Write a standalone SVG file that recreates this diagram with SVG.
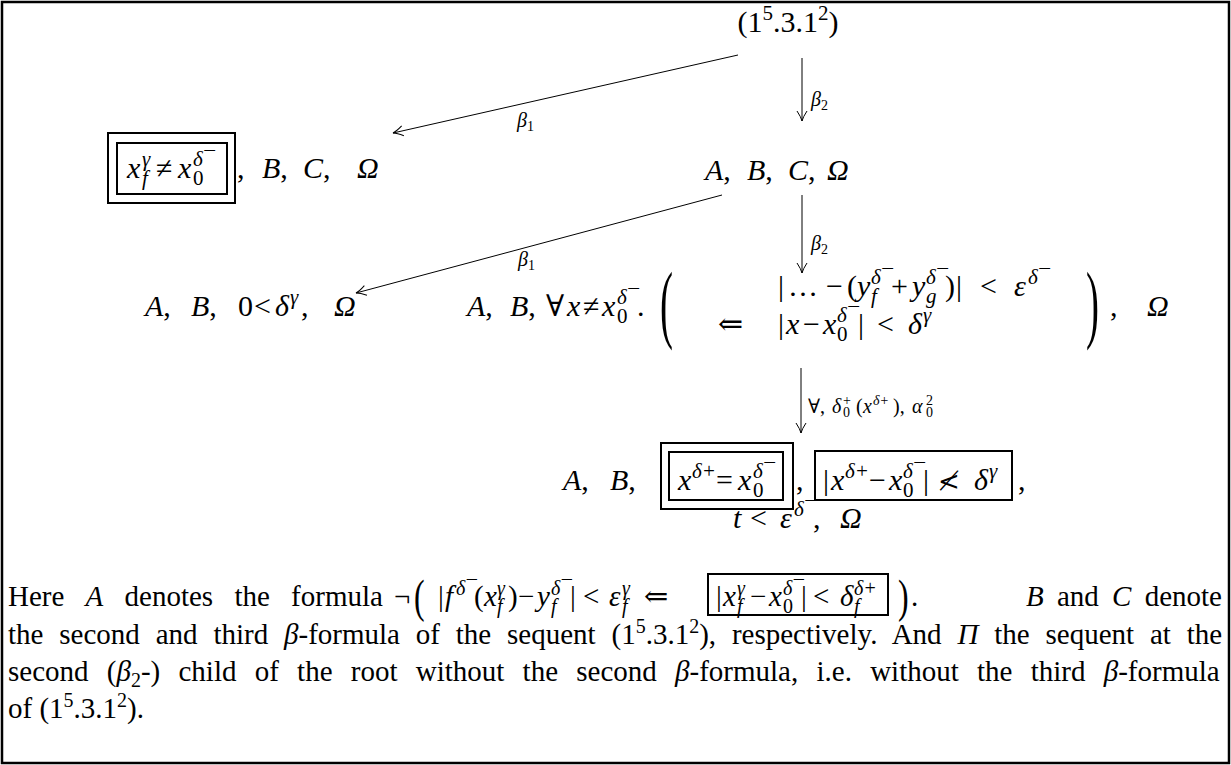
<svg xmlns="http://www.w3.org/2000/svg" width="1231" height="765" viewBox="0 0 1231 765">
<defs>
<style>
text{font-family:"Liberation Serif","DejaVu Serif",serif;fill:#000}
.m{font-size:30px}
.i{font-style:italic}
.n{font-style:normal}
.s{font-size:21px}
.l{font-size:20px}
.ls{font-size:14px}
.p{font-size:29px}
.ps{font-size:20px}
.sym{font-family:"DejaVu Serif","DejaVu Sans",serif}
.box{fill:none;stroke:#000;stroke-width:2}
.edge{stroke:#000;stroke-width:1;fill:none}
</style>
<marker id="arr" markerWidth="14" markerHeight="12" refX="0" refY="0" viewBox="-11 -6 13 12" orient="auto" markerUnits="userSpaceOnUse">
<path d="M-10,-5 Q-4,-1 0,0 Q-4,1 -10,5" fill="none" stroke="#000" stroke-width="1"/>
</marker>
</defs>
<rect x="2" y="2" width="1227" height="761" fill="#fff" stroke="#000" stroke-width="2.5"/>

<g id="connectors">
<line class="edge" x1="738" y1="55" x2="393" y2="133" marker-end="url(#arr)"/>
<text class="l i" x="517" y="127">β<tspan class="ls n" dy="4">1</tspan></text>
<line class="edge" x1="802" y1="58" x2="802" y2="121" marker-end="url(#arr)"/>
<text class="l i" x="811" y="106">β<tspan class="ls n" dy="4">2</tspan></text>
<line class="edge" x1="722" y1="195" x2="356" y2="293" marker-end="url(#arr)"/>
<text class="l i" x="518" y="266">β<tspan class="ls n" dy="4">1</tspan></text>
<line class="edge" x1="802" y1="195" x2="802" y2="273" marker-end="url(#arr)"/>
<text class="l i" x="811" y="250">β<tspan class="ls n" dy="4">2</tspan></text>
<line class="edge" x1="801" y1="368" x2="801" y2="433" marker-end="url(#arr)"/>
<text class="l" x="808" y="413">∀,<tspan class="i" x="832">δ</tspan><tspan class="ls" x="843" dy="-8">+</tspan><tspan class="ls" x="843" dy="12">0</tspan><tspan x="856" dy="-4">(</tspan><tspan class="i" x="863">x</tspan><tspan class="ls i" x="873" dy="-8">δ+</tspan><tspan x="893" dy="8">),</tspan><tspan class="i" x="912">α</tspan><tspan class="ls" x="926" dy="-8">2</tspan><tspan class="ls" x="926" dy="12">0</tspan></text>
</g>

<g id="n-root">
<text class="m" x="788" y="32" text-anchor="middle">(1<tspan class="s" dy="-12">5</tspan><tspan dy="12">.3.1</tspan><tspan class="s" dy="-12">2</tspan><tspan dy="12">)</tspan></text>
</g>

<g id="n-left1">
<rect class="box" x="108" y="133" width="127" height="70"/>
<rect class="box" x="117" y="143" width="110" height="51"/>
<text class="m i" x="127" y="178">x<tspan class="s" x="142" dy="-12">γ</tspan><tspan class="s" x="142" dy="19">f</tspan><tspan class="n" x="156" dy="-7">≠</tspan><tspan x="178">x</tspan><tspan class="s" x="193" dy="-12">δ¯</tspan><tspan class="s n" x="193" dy="19">0</tspan></text>
<text class="m i" x="237" y="178"><tspan class="n">,</tspan><tspan x="262">B</tspan><tspan class="n">,</tspan><tspan x="303">C</tspan><tspan class="n">,</tspan><tspan x="357">Ω</tspan></text>
</g>

<g id="n-mid1">
<text class="m i" x="705" y="180">A<tspan class="n">,</tspan><tspan x="747">B</tspan><tspan class="n">,</tspan><tspan x="788">C</tspan><tspan class="n">,</tspan><tspan x="827">Ω</tspan></text>
</g>

<g id="n-left2">
<text class="m i" x="145" y="316">A<tspan class="n">,</tspan><tspan x="191">B</tspan><tspan class="n">,</tspan><tspan class="n" x="238">0</tspan><tspan class="n" x="254">&lt;</tspan><tspan x="275">δ</tspan><tspan class="s" x="290" dy="-12">γ</tspan><tspan class="n" x="301" dy="12">,</tspan><tspan x="334">Ω</tspan></text>
</g>

<g id="n-mid2">
<text class="m i" x="467" y="316">A<tspan class="n">,</tspan><tspan x="510">B</tspan><tspan class="n">,</tspan><tspan class="n" x="546">∀</tspan><tspan x="567">x</tspan><tspan class="n" x="583">≠</tspan><tspan x="602">x</tspan><tspan class="s" x="617" dy="-12">δ¯</tspan><tspan class="s n" x="617" dy="19">0</tspan><tspan class="n" x="637" dy="-7">.</tspan></text>
<text class="m" transform="translate(660,332) scale(1.3,2.9)">(</text>
<text class="m" y="296"><tspan x="778">|</tspan><tspan x="788">…</tspan><tspan x="826">−</tspan><tspan x="847">(</tspan><tspan class="i" x="857">y</tspan><tspan class="s i" x="871" dy="-12">δ¯</tspan><tspan class="s i" x="871" dy="19">f</tspan><tspan x="891" dy="-7">+</tspan><tspan class="i" x="912">y</tspan><tspan class="s i" x="926" dy="-12">δ¯</tspan><tspan class="s i" x="926" dy="19">g</tspan><tspan x="945" dy="-7">)</tspan><tspan x="956">|</tspan><tspan x="980">&lt;</tspan><tspan class="i" x="1014">ε</tspan><tspan class="s i" x="1028" dy="-12">δ¯</tspan></text>
<text class="m" x="718" y="334">⇐</text>
<text class="m" y="334"><tspan x="778">|</tspan><tspan class="i" x="786">x</tspan><tspan x="803">−</tspan><tspan class="i" x="823">x</tspan><tspan class="s i" x="837" dy="-12">δ¯</tspan><tspan class="s" x="837" dy="19">0</tspan><tspan x="858" dy="-7">|</tspan><tspan x="877">&lt;</tspan><tspan class="i" x="908">δ</tspan><tspan class="s i" x="923" dy="-12">γ</tspan></text>
<text class="m" transform="translate(1086,332) scale(1.3,2.9)">)</text>
<text class="m" x="1110" y="316">,<tspan class="i" x="1147">Ω</tspan></text>
</g>

<g id="n-bottom">
<text class="m i" x="563" y="490">A<tspan class="n">,</tspan><tspan x="610">B</tspan><tspan class="n">,</tspan></text>
<rect class="box" x="661" y="443" width="132" height="66"/>
<rect class="box" x="669" y="452" width="114" height="48"/>
<text class="m i" x="678" y="490">x<tspan class="s" x="692" dy="-12">δ+</tspan><tspan class="n" x="716" dy="12">=</tspan><tspan x="738">x</tspan><tspan class="s" x="753" dy="-12">δ¯</tspan><tspan class="s n" x="753" dy="19">0</tspan></text>
<text class="m" x="796" y="490">,</text>
<rect class="box" x="815" y="451" width="197" height="49"/>
<text class="m" y="490"><tspan x="823">|</tspan><tspan class="i" x="831">x</tspan><tspan class="s i" x="845" dy="-12">δ+</tspan><tspan x="869" dy="12">−</tspan><tspan class="i" x="889">x</tspan><tspan class="s i" x="903" dy="-12">δ¯</tspan><tspan class="s" x="903" dy="19">0</tspan><tspan x="923" dy="-7">|</tspan><tspan class="sym" x="938" font-size="26">≮</tspan><tspan class="i" x="974">δ</tspan><tspan class="s i" x="989" dy="-12">γ</tspan></text>
<text class="m" x="1018" y="490">,</text>
<text class="m" y="528"><tspan class="i" x="733">t</tspan><tspan x="750">&lt;</tspan><tspan class="i" x="780">ε</tspan><tspan class="s i" x="794" dy="-12">δ¯</tspan><tspan x="813" dy="12">,</tspan><tspan class="i" x="840">Ω</tspan></text>
</g>

<g id="caption">
<text class="p" x="8" y="606" word-spacing="14">Here <tspan class="i">A</tspan> denotes the formula</text>
<text class="p" x="394" y="606">¬</text>
<text class="p" transform="translate(414,612) scale(1.1,1.6)">(</text>
<text class="p" y="606"><tspan x="438">|</tspan><tspan class="i" x="445">f</tspan><tspan class="ps i" x="456" dy="-11">δ¯</tspan><tspan x="474" dy="11">(</tspan><tspan class="i" x="484">x</tspan><tspan class="ps i" x="497" dy="-11">γ</tspan><tspan class="ps i" x="497" dy="18">f</tspan><tspan x="508" dy="-7">)</tspan><tspan x="518">−</tspan><tspan class="i" x="537">y</tspan><tspan class="ps i" x="551" dy="-11">δ¯</tspan><tspan class="ps i" x="551" dy="18">f</tspan><tspan x="570" dy="-7">|</tspan><tspan x="583">&lt;</tspan><tspan class="i" x="609">ε</tspan><tspan class="ps i" x="622" dy="-11">γ</tspan><tspan class="ps i" x="622" dy="18">f</tspan><tspan x="644" dy="-7">⇐</tspan></text>
<rect class="box" x="708" y="574" width="180" height="41"/>
<text class="p" y="606"><tspan x="716">|</tspan><tspan class="i" x="723">x</tspan><tspan class="ps i" x="737" dy="-11">γ</tspan><tspan class="ps i" x="737" dy="18">f</tspan><tspan x="750" dy="-7">−</tspan><tspan class="i" x="769">x</tspan><tspan class="ps i" x="783" dy="-11">δ¯</tspan><tspan class="ps" x="783" dy="18">0</tspan><tspan x="801" dy="-7">|</tspan><tspan x="813">&lt;</tspan><tspan class="i" x="840">δ</tspan><tspan class="ps i" x="854" dy="-11">δ+</tspan><tspan class="ps i" x="854" dy="18">f</tspan></text>
<text class="p" transform="translate(898,612) scale(1.1,1.6)">)</text>
<text class="p" x="911" y="606">.</text>
<text class="p" x="1222" y="606" text-anchor="end" word-spacing="6"><tspan class="i">B</tspan> and <tspan class="i">C</tspan> denote</text>
<text class="p" x="8" y="644" word-spacing="8.6">the second and third <tspan class="i">β</tspan>-formula of the sequent (1<tspan class="ps" dy="-11">5</tspan><tspan dy="11">.3.1</tspan><tspan class="ps" dy="-11">2</tspan><tspan dy="11">), respectively. And </tspan><tspan class="i">Π</tspan> the sequent at the</text>
<text class="p" x="8" y="681" word-spacing="11">second (<tspan class="i">β</tspan><tspan class="ps" dy="6">2</tspan><tspan dy="-6">-) child of the root without the second </tspan><tspan class="i">β</tspan>-formula, i.e. without the third <tspan class="i">β</tspan>-formula</text>
<text class="p" x="8" y="718">of (1<tspan class="ps" dy="-11">5</tspan><tspan dy="11">.3.1</tspan><tspan class="ps" dy="-11">2</tspan><tspan dy="11">).</tspan></text>
</g>
</svg>
